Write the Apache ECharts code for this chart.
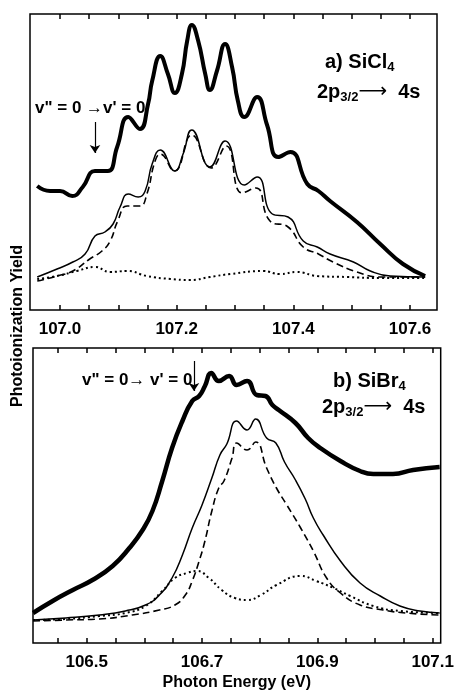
<!DOCTYPE html>
<html>
<head>
<meta charset="UTF-8">
<title>SiCl4 / SiBr4 2p3/2 - 4s</title>
<script src="https://cdn.jsdelivr.net/npm/echarts@6/dist/echarts.min.js"></script>
<style>html,body{margin:0;padding:0;background:#fff}</style>
</head>
<body>
<div id="chart" style="width:457px;height:692px"></div>
<script>
// a) SiCl4 : measured yield (thick), fit sum (solid), two components (dashed, dotted)
var clExpE = [106.961,106.983,107.000,107.021,107.039,107.060,107.082,107.098,107.117,107.137,107.151,107.158,107.172,107.185,107.197,107.209,107.218,107.226,107.237,107.249,107.257,107.269,107.283,107.295,107.305,107.316,107.338,107.355,107.374,107.395,107.424,107.443,107.463,107.509,107.549,107.588,107.626];
var clExpY = [124,119,119,114,123,139,139,163,193,181,206,229,254,236,217,236,269,285,269,236,220,239,266,243,209,193,213,185,153,158,126,119,109,88,66,46,34];
var clSumE = [106.961,106.995,107.022,107.043,107.060,107.077,107.091,107.103,107.117,107.134,107.146,107.158,107.172,107.197,107.211,107.226,107.257,107.283,107.316,107.338,107.364,107.391,107.417,107.441,107.463,107.503,107.532,107.566,107.626];
var clSumY = [33,41,48,56,74,78,86,103,116,113,119,146,160,139,156,180,143,169,125,133,96,93,69,63,56,48,39,34,33];
var clAE = [106.961,106.995,107.022,107.051,107.072,107.086,107.099,107.115,107.137,107.149,107.163,107.172,107.196,107.226,107.259,107.285,107.312,107.336,107.360,107.391,107.417,107.443,107.468,107.509,107.549,107.626];
var clAY = [29,34,39,51,59,69,89,104,104,116,149,156,139,175,142,164,117,122,89,83,63,56,48,38,33,33];
var clBE = [106.961,106.995,107.029,107.060,107.086,107.115,107.149,107.189,107.223,107.257,107.292,107.348,107.377,107.406,107.441,107.492,107.549,107.626];
var clBY = [31,34,39,43,38,39,34,31,30,33,36,39,36,38,34,33,32,32];

// b) SiBr4
var brExpE = [106.407,106.441,106.476,106.510,106.545,106.574,106.597,106.614,106.631,106.648,106.666,106.683,106.695,106.705,106.716,106.729,106.747,106.760,106.778,106.795,106.810,106.822,106.833,106.862,106.884,106.905,106.940,106.974,106.997,107.031,107.066,107.112];
var brExpY = [30,42,53,63,77,95,113,132,162,195,222,242,247,257,270,262,267,258,262,248,247,238,233,220,205,195,182,172,169,169,173,176];
var brSumE = [106.407,106.464,106.522,106.567,106.602,106.626,106.648,106.666,106.683,106.700,106.717,106.731,106.743,106.760,106.778,106.793,106.812,106.828,106.843,106.862,106.879,106.893,106.910,106.940,106.974,107.009,107.043,107.078,107.112];
var brSumY = [23,25,28,32,38,48,65,88,115,138,165,188,199,222,213,224,205,200,181,163,144,125,108,82,60,47,37,32,30];
var brAE = [106.407,106.464,106.522,106.579,106.626,106.653,106.671,106.683,106.695,106.705,106.717,106.729,106.738,106.752,106.760,106.778,106.793,106.812,106.829,106.847,106.871,106.893,106.916,106.940,106.974,107.014,107.053,107.112];
var brAY = [22,23,24,28,33,38,48,62,82,102,132,155,162,185,200,193,201,175,155,138,115,92,65,50,38,33,30,28];
var brBE = [106.407,106.464,106.522,106.567,106.602,106.631,106.653,106.674,106.691,106.712,106.734,106.757,106.778,106.802,106.829,106.871,106.898,106.928,106.957,106.997,107.043,107.112];
var brBY = [23,24,27,30,37,52,65,70,72,65,53,45,43,48,58,67,62,55,47,37,32,30];

// ticks and labels
var clTicks = [107.0,107.05,107.1,107.15,107.2,107.25,107.3,107.35,107.4,107.45,107.5,107.55,107.6];
var clLabels = [107.0,107.2,107.4,107.6];
var brTicks = [106.45,106.5,106.55,106.6,106.65,106.7,106.75,106.8,106.85,106.9,106.95,107.0,107.05,107.1];
var brLabels = [106.5,106.7,106.9,107.1];

// v"=0 -> v'=0 arrows: [energy, from, to]
var clArrow = [107.060, 188, 157];
var brArrow = [106.686, 282, 252];

var font = '"Liberation Sans", Arial, sans-serif';
var myChart = echarts.init(document.getElementById('chart'));

function pairs(xs, ys) {
    var out = [];
    for (var i = 0; i < xs.length; i++) out.push([xs[i], ys[i]]);
    return out;
}

function xAxes(grid, min, max, ticks, labels, name) {
    var base = {
        gridIndex: grid, type: 'value', min: min, max: max,
        axisLine: {show: false}, splitLine: {show: false},
        axisTick: {inside: true, length: 5, customValues: ticks, lineStyle: {color: '#000', width: 1.5}}
    };
    var bottom = Object.assign({}, base, {
        position: 'bottom',
        axisLabel: {customValues: labels, margin: 11, color: '#000', fontSize: 17, fontWeight: 'bold', fontFamily: font,
            formatter: function (v) { return v.toFixed(1); }}
    });
    if (name) {
        bottom.name = name;
        bottom.nameLocation = 'middle';
        bottom.nameGap = 32;
        bottom.nameTextStyle = {color: '#000', fontSize: 16, fontWeight: 'bold', fontFamily: font};
    }
    var top = Object.assign({}, base, {position: 'top', axisLabel: {show: false}});
    return [bottom, top];
}

function line(xi, yi, data, type, width) {
    return {
        type: 'line', xAxisIndex: xi, yAxisIndex: yi, data: data,
        smooth: 0.5, symbol: 'none', silent: true,
        lineStyle: {color: '#000', width: width, type: type}
    };
}

function arrow(a) {
    return {
        silent: true, symbol: ['none', 'arrow'], symbolSize: 8,
        label: {show: false},
        itemStyle: {color: '#000'},
        lineStyle: {color: '#000', width: 1.2, type: 'solid'},
        data: [[{coord: [a[0], a[1]]}, {coord: [a[0], a[2]]}]]
    };
}

var labelRich = {
    m: {fontSize: 20, fontFamily: font, fontWeight: 'bold', color: '#000', verticalAlign: 'top', lineHeight: 22},
    a: {fontSize: 20, fontFamily: '"DejaVu Sans", sans-serif', color: '#000', verticalAlign: 'top', lineHeight: 22},
    s: {fontSize: 13, fontFamily: font, fontWeight: 'bold', color: '#000', verticalAlign: 'top', lineHeight: 14, padding: [9, 0, 0, 0]}
};

function note(x, y, text) {
    return {type: 'text', x: x, y: y, silent: true,
        style: {text: text, rich: labelRich, verticalAlign: 'middle', align: 'left'}};
}

function vnote(x, y, text) {
    return {type: 'text', x: x, y: y, silent: true,
        style: {text: text, fill: '#000', fontSize: 17, fontWeight: 'bold', fontFamily: font, verticalAlign: 'middle', align: 'left'}};
}

var axesTop = xAxes(0, 106.9486, 107.6463, clTicks, clLabels, null);
var axesBot = xAxes(1, 106.4069, 107.1138, brTicks, brLabels, 'Photon Energy (eV)');

var clExpSeries = line(0, 0, pairs(clExpE, clExpY), 'solid', 4);
clExpSeries.markLine = arrow(clArrow);
var brExpSeries = line(2, 1, pairs(brExpE, brExpY), 'solid', 4.5);
brExpSeries.markLine = arrow(brArrow);

option = {
    backgroundColor: '#fff',
    animation: false,
    grid: [
        {left: 30, top: 14, width: 407, height: 296, show: true, borderColor: '#000', borderWidth: 1.5, backgroundColor: 'transparent'},
        {left: 33, top: 348, width: 410, height: 295, show: true, borderColor: '#000', borderWidth: 1.5, backgroundColor: 'transparent'}
    ],
    xAxis: axesTop.concat(axesBot),
    yAxis: [
        {gridIndex: 0, type: 'value', min: 0, max: 296, show: false},
        {gridIndex: 1, type: 'value', min: 0, max: 295, show: false}
    ],
    series: [
        clExpSeries,
        line(0, 0, pairs(clSumE, clSumY), 'solid', 1.5),
        line(0, 0, pairs(clAE, clAY), [7, 4], 1.6),
        line(0, 0, pairs(clBE, clBY), [2, 3], 2),
        brExpSeries,
        line(2, 1, pairs(brSumE, brSumY), 'solid', 1.5),
        line(2, 1, pairs(brAE, brAY), [7, 4], 1.6),
        line(2, 1, pairs(brBE, brBY), [2, 3], 2)
    ],
    graphic: [
        {type: 'text', x: 18, y: 326, rotation: Math.PI / 2, silent: true,
            style: {text: 'Photoionization Yield', fill: '#000', fontSize: 16, fontWeight: 'bold', fontFamily: font, align: 'center', verticalAlign: 'middle'}},
        note(325, 63, '{m|a) SiCl}{s|4}'),
        note(317, 93, '{m|2p}{s|3/2}{a|\u27F6}{m|  4s}'),
        note(333, 382, '{m|b) SiBr}{s|4}'),
        note(322, 408, '{m|2p}{s|3/2}{a|\u27F6}{m|  4s}'),
        vnote(35, 108, 'v" = 0 \u2192v\' = 0'),
        vnote(82, 380, 'v" = 0\u2192 v\' = 0')
    ]
};
myChart.setOption(option);
</script>
</body>
</html>
